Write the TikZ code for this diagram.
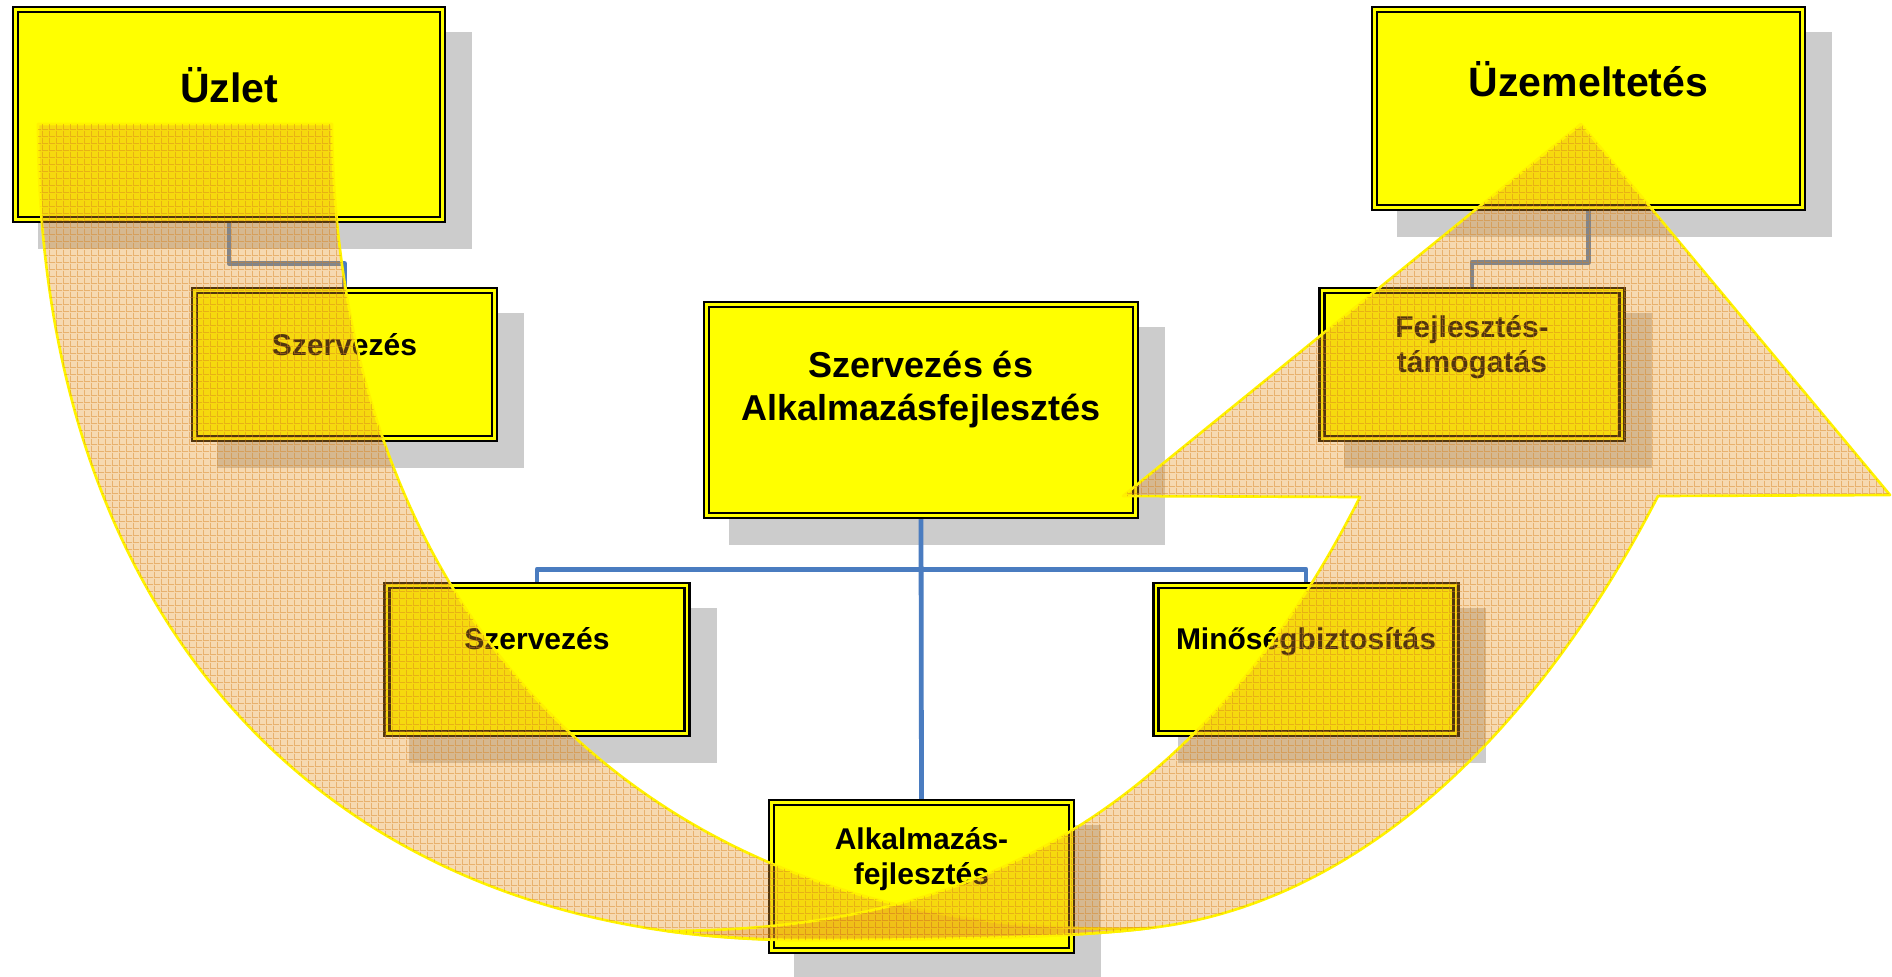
\documentclass[tikz,border=0pt]{standalone}
\usepackage{fontspec}
\setmainfont{Liberation Sans}
\usetikzlibrary{calc,backgrounds,patterns}

\definecolor{boxyellow}{RGB}{255,255,0}
\definecolor{shadowgray}{RGB}{204,204,204}
\definecolor{linkblue}{RGB}{74,124,192}
\definecolor{arrowfill}{RGB}{232,150,40}
\definecolor{gridorange}{RGB}{215,130,30}

\newcommand{\topfont}{\fontsize{30.75pt}{36pt}\selectfont}
\newcommand{\centerfont}{\fontsize{27pt}{32.25pt}\selectfont}
\newcommand{\cellfont}{\fontsize{22.5pt}{26.25pt}\selectfont}

% fine grid texture of the big arrow
\pgfdeclarepatternformonly{arrowgrid}{\pgfpointorigin}{\pgfpoint{5.25pt}{5.25pt}}{\pgfpoint{5.25pt}{5.25pt}}{%
  \pgfsetlinewidth{0.8pt}%
  \pgfpathmoveto{\pgfpoint{0pt}{0.4pt}}\pgfpathlineto{\pgfpoint{5.25pt}{0.4pt}}%
  \pgfpathmoveto{\pgfpoint{0.4pt}{0pt}}\pgfpathlineto{\pgfpoint{0.4pt}{5.25pt}}%
  \pgfusepath{stroke}}

\tikzset{
  orgbox/.style={draw=black, double=boxyellow, double distance=1.9pt, line width=1.8pt, fill=boxyellow, inner sep=0pt, outer sep=0pt},
  smallbox/.style={orgbox, minimum width=225pt, minimum height=110.8pt},
  boxshadow/.style={fill=shadowgray},
  link/.style={draw=linkblue, line width=3.6pt, line join=round},
  boxtext/.style={inner sep=0pt, anchor=base, align=center},
  flow/.style={fill=arrowfill, fill opacity=0.36, draw=yellow, line width=2pt, line join=round,
    postaction={pattern=arrowgrid, pattern color=gridorange, fill opacity=0.45}},
}

\begin{document}
\begin{tikzpicture}[x=0.75pt,y=0.75pt,yscale=-1,xscale=1]
\useasboundingbox (0,0) rectangle (1892,976);

%Shape: Boxes
\node[orgbox, minimum width=320pt, minimum height=157.3pt] (uzlet) at (229,114.5) {};
\node[smallbox] (szerv1) at (344.5,364.5) {};
\node[orgbox, minimum width=320.8pt, minimum height=148.3pt] (uzem) at (1588.5,108.5) {};
\node[smallbox] (fejl) at (1472,364.5) {};
\node[orgbox, minimum width=321.5pt, minimum height=158pt] (kozep) at (921,410) {};
\node[smallbox] (szerv2) at (537,659.5) {};
\node[smallbox] (minoseg) at (1306,659.5) {};
\node[smallbox] (alk) at (921.5,876.5) {};

\begin{scope}[on background layer]
\fill[white] (0,0) rectangle (1892,976);
%Shape: Shadows
\foreach \b in {uzlet,szerv1,uzem,fejl,kozep,szerv2,minoseg,alk}
  \fill[boxshadow] ($(\b.south west)+(22.3,29.7)$) rectangle ($(\b.north east)+(29.7,22.3)$);
%Straight Lines: connectors
\draw[link] (uzlet.south) -- ++(0,44) -| (szerv1.north);
\draw[link] (uzem.south) -- ++(0,55) -| (fejl.north);
\draw[link] (kozep.south) -- ++(0,54) -| (szerv2.north);
\draw[link] (kozep.south) -- ++(0,54) -| (minoseg.north);
\draw[link] (kozep.south) -- (alk.north);
\end{scope}

% Text Node
\node[boxtext, font=\bfseries\topfont] (uzlet-t) at (229,102) {Üzlet};
% Text Node
\node[boxtext, font=\bfseries\topfont] (uzem-t) at (1588.5,96) {Üzemeltetés};
% Text Node
\node[boxtext, font=\bfseries\centerfont] (kozep-t) at (921,420) {Szervezés és\\Alkalmazásfejlesztés};
% Text Node
\node[boxtext, font=\bfseries\cellfont] (szerv1-t) at (344.5,355) {Szervezés};
% Text Node
\node[boxtext, font=\bfseries\cellfont] (fejl-t) at (1472,372) {Fejlesztés-\\támogatás};
% Text Node
\node[boxtext, font=\bfseries\cellfont] (szerv2-t) at (537,649) {Szervezés};
% Text Node
\node[boxtext, font=\bfseries\cellfont] (minoseg-t) at (1306,649) {Minőségbiztosítás};
% Text Node
\node[boxtext, font=\bfseries\cellfont] (alk-t) at (921.5,884) {Alkalmazás-\\fejlesztés};

%Curve Lines: left limb of the U-turn arrow
\draw[flow] (38,124) .. controls (38,625) and (330,940) .. (800,940) .. controls (950,940) and (1080,937) .. (1150,928) .. controls (650,945) and (336,620) .. (332,124) -- cycle;
%Curve Lines: right limb with the head
\draw[flow] (667,931) .. controls (715,937) and (760,940) .. (800,940) .. controls (950,940) and (1080,937) .. (1150,928) .. controls (1350,905) and (1530,745) .. (1658,496) -- (1890,495) -- (1581,124) -- (1123,496) -- (1360,497) .. controls (1171,871) and (900,930) .. (667,931) -- cycle;

\end{tikzpicture}
\end{document}
